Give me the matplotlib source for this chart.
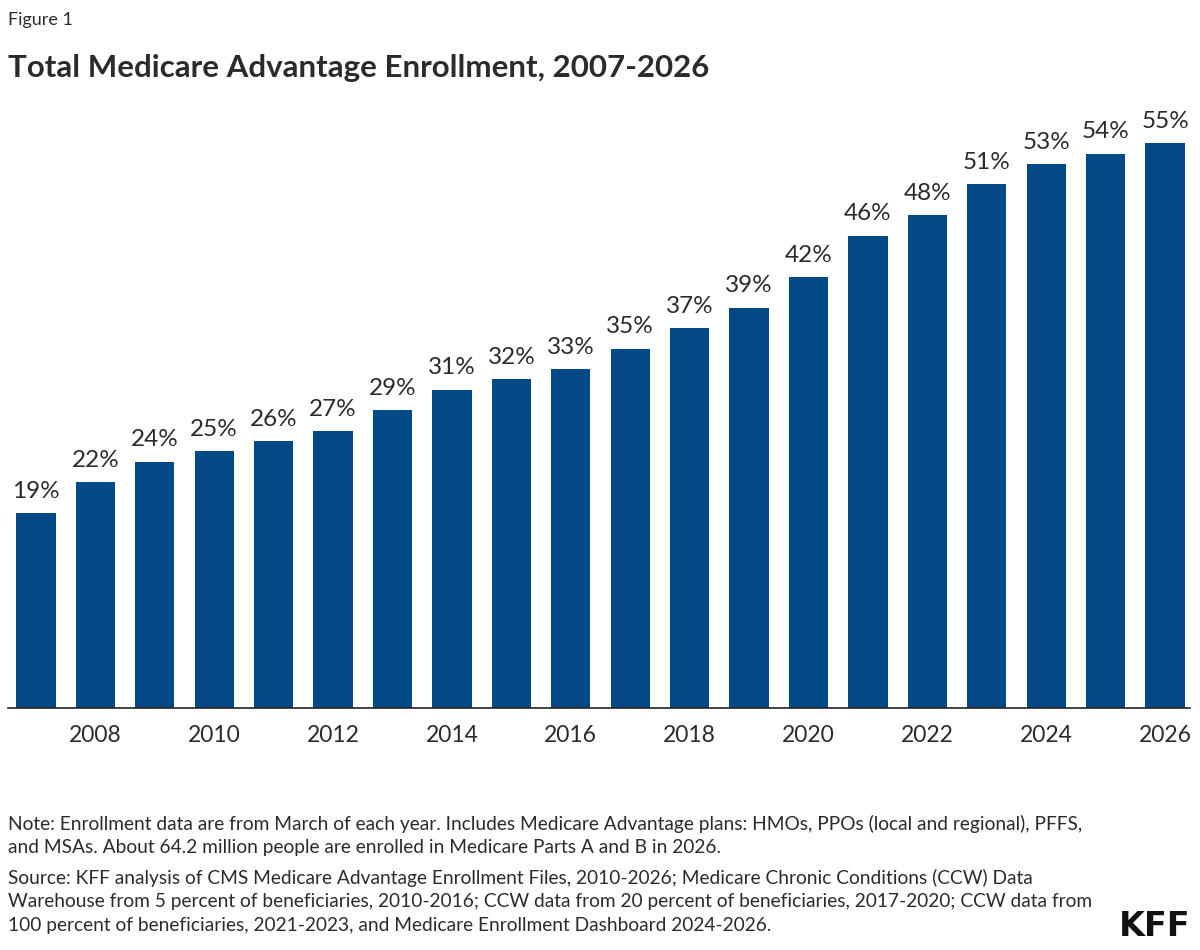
import matplotlib
matplotlib.use("Agg")
import matplotlib.pyplot as plt

years = list(range(2007, 2027))
share = [19, 22, 24, 25, 26, 27, 29, 31, 32, 33, 35, 37, 39, 42, 46, 48, 51, 53, 54, 55]
tick_years = list(range(2008, 2027, 2))

title = "Total Medicare Advantage Enrollment, 2007-2026"
note = ("Note: Enrollment data are from March of each year. Includes Medicare Advantage plans: HMOs, PPOs (local and regional), PFFS,\n"
        "and MSAs. About 64.2 million people are enrolled in Medicare Parts A and B in 2026.")
source = ("Source: KFF analysis of CMS Medicare Advantage Enrollment Files, 2010-2026; Medicare Chronic Conditions (CCW) Data\n"
          "Warehouse from 5 percent of beneficiaries, 2010-2016; CCW data from 20 percent of beneficiaries, 2017-2020; CCW data from\n"
          "100 percent of beneficiaries, 2021-2023, and Medicare Enrollment Dashboard 2024-2026.")

plt.rcParams['font.family'] = ['Lato', 'DejaVu Sans']
txt = "#2b2b2b"
blue = "#014a87"

fig = plt.figure(figsize=(12, 9.5), dpi=100)
ax = fig.add_axes([8 / 1200, 1 - 708 / 950, (1190 - 8) / 1200, (708 - 92) / 950])

x = list(range(len(years)))
ax.bar(x, share, width=0.66, color=blue)
for xi, v in zip(x, share):
    ax.text(xi, v + 1.1, "%d%%" % v, ha="center", va="bottom", fontsize=17.5, color=txt)

ax.set_xlim(-0.47, 19.42)
ax.set_ylim(0, 60)
ax.set_xticks([years.index(y) for y in tick_years])
ax.set_xticklabels([str(y) for y in tick_years], fontsize=16.5, color=txt)
ax.tick_params(axis="x", length=0, pad=12)
ax.set_yticks([])
for s in ["top", "right", "left"]:
    ax.spines[s].set_visible(False)
ax.spines["bottom"].set_color("#222222")
ax.spines["bottom"].set_linewidth(1.2)

fig.text(8 / 1200, 1 - 20 / 950, "Figure 1", fontsize=13, color=txt, va="center")
fig.text(8 / 1200, 1 - 68 / 950, title, fontsize=22.5, fontweight="bold", color=txt, va="center")
fig.text(8 / 1200, 1 - 815 / 950, note, fontsize=13.8, color=txt, va="top", linespacing=1.45)
fig.text(8 / 1200, 1 - 869 / 950, source, fontsize=13.8, color=txt, va="top", linespacing=1.45)
fig.text(1190 / 1200, 1 - 926 / 950, "KFF", fontsize=24, fontweight="bold", color="#111111",
         ha="right", va="center", family=["Liberation Sans Narrow", "DejaVu Sans"])

fig.savefig("out.png", dpi=100, facecolor="white")
